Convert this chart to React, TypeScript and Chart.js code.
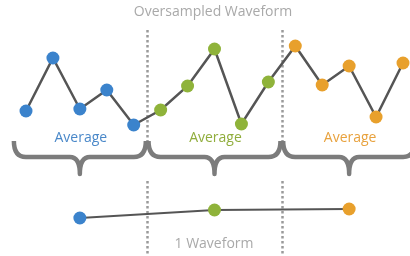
import React, { useEffect, useRef } from "react";
import { Chart, registerables } from "chart.js";

Chart.register(...registerables);

// Oversampled waveform samples (amplitude units)
const sampleIndex = [0, 1, 2, 3, 4, 5, 6, 7, 8, 9, 10, 11, 12, 13, 14];
const sampleValues = [145, 198, 147, 166, 131, 146, 170, 207, 132, 174, 210, 171, 190, 139, 193];
const sampleGroup = [0, 0, 0, 0, 0, 1, 1, 1, 1, 1, 2, 2, 2, 2, 2];

// Averaged (1 waveform) points
const avgIndex = [2, 7, 12];
const avgValues = [38, 46, 47];

const groupColors = ["#3b83cc", "#8fb33a", "#e8a02c"];
const labelColors = ["#4a88c9", "#90ad3c", "#e8a23e"];
const groupLabel = "Average";
const titleText = "Oversampled Waveform";
const bottomText = "1 Waveform";
const dividers = [4.5, 9.5];

const decorPlugin = {
  id: "decor",
  beforeDatasetsDraw(chart: any) {
    const ctx = chart.ctx;
    const xs = chart.scales.x;
    ctx.save();
    ctx.strokeStyle = "#9a9a9a";
    ctx.lineWidth = 2.5;
    ctx.setLineDash([2.5, 2.5]);
    dividers.forEach((d) => {
      const px = Math.round(xs.getPixelForValue(d)) + 0.5;
      ctx.beginPath();
      ctx.moveTo(px, 30);
      ctx.lineTo(px, 141);
      ctx.stroke();
      ctx.beginPath();
      ctx.moveTo(px, 181);
      ctx.lineTo(px, 256);
      ctx.stroke();
    });
    ctx.setLineDash([]);

    // braces
    ctx.strokeStyle = "#7c7c7c";
    ctx.lineWidth = 4.5;
    ctx.lineCap = "butt";
    ctx.lineJoin = "round";
    const yTop = 141, yMid = 157, yTip = 174;
    avgIndex.forEach((c) => {
      const cx = xs.getPixelForValue(c);
      const x0 = xs.getPixelForValue(c - 2.45);
      const x1 = xs.getPixelForValue(c + 2.45);
      const qe = 12, qc = 10;
      ctx.beginPath();
      ctx.moveTo(x0, yTop);
      ctx.quadraticCurveTo(x0, yMid, x0 + qe, yMid);
      ctx.lineTo(cx - qc, yMid);
      ctx.quadraticCurveTo(cx, yMid, cx, yTip);
      ctx.quadraticCurveTo(cx, yMid, cx + qc, yMid);
      ctx.lineTo(x1 - qe, yMid);
      ctx.quadraticCurveTo(x1, yMid, x1, yTop);
      ctx.stroke();
    });

    // texts
    ctx.textAlign = "center";
    ctx.textBaseline = "middle";
    ctx.font = "14px 'Open Sans', sans-serif";
    avgIndex.forEach((c, i) => {
      ctx.fillStyle = labelColors[i];
      ctx.fillText(groupLabel, xs.getPixelForValue(c) + 1, 138);
    });
    ctx.fillStyle = "#a9a9a9";
    ctx.fillText(titleText, 213, 12);
    ctx.fillText(bottomText, 214, 244);
    ctx.restore();
  },
};

export default function App() {
  const ref = useRef<HTMLCanvasElement>(null);
  useEffect(() => {
    if (!ref.current) return;
    const spacing = 377 / 14;
    const xmin = -26 / spacing;
    const xmax = xmin + 410 / spacing;
    const chart = new Chart(ref.current, {
      type: "line",
      data: {
        datasets: [
          {
            data: sampleIndex.map((x, i) => ({ x, y: sampleValues[i] })),
            borderColor: "#555555",
            borderWidth: 2.5,
            pointBackgroundColor: sampleGroup.map((g) => groupColors[g]),
            pointBorderWidth: 0,
            pointRadius: 6.5,
            tension: 0,
            clip: false as any,
          },
          {
            data: avgIndex.map((x, i) => ({ x, y: avgValues[i] })),
            borderColor: "#555555",
            borderWidth: 2,
            pointBackgroundColor: groupColors,
            pointBorderWidth: 0,
            pointRadius: 6.5,
            tension: 0,
            clip: false as any,
          },
        ],
      },
      options: {
        responsive: false,
        animation: false,
        layout: { padding: 0, autoPadding: false } as any,
        plugins: { legend: { display: false }, tooltip: { enabled: false } },
        events: [],
        scales: {
          x: { type: "linear", min: xmin, max: xmax, display: false },
          y: { type: "linear", min: 0, max: 256, display: false },
        },
      },
      plugins: [decorPlugin],
    });
    return () => chart.destroy();
  }, []);
  return (
    <div style={{ position: "absolute", left: 0, top: 0, width: 410, height: 256, background: "#fff" }}>
      <canvas ref={ref} width={410} height={256} style={{ display: "block" }} />
    </div>
  );
}
